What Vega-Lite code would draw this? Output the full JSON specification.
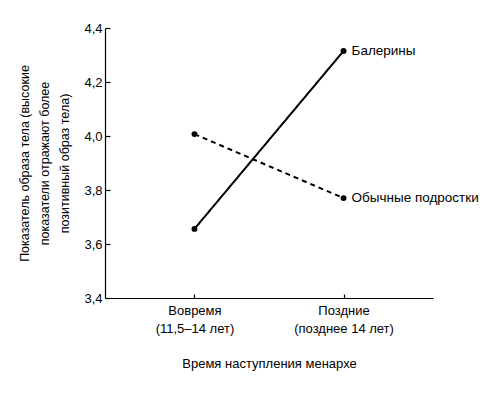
{
  "$schema": "https://vega.github.io/schema/vega-lite/v6.json",
  "width": 328,
  "height": 270,
  "autosize": {"type": "none"},
  "padding": {"left": 105, "top": 28, "right": 67, "bottom": 97},
  "background": "white",
  "config": {
    "font": "Liberation Sans, sans-serif",
    "view": {"stroke": null},
    "axis": {"grid": false, "domainColor": "black", "tickColor": "black", "labelColor": "black", "titleColor": "black", "labelFont": "Liberation Sans", "titleFont": "Liberation Sans", "titleFontWeight": "normal", "domainWidth": 1.2, "tickWidth": 1.2}
  },
  "data": {"values": [
    {"group": "Балерины", "period": "Вовремя", "value": 3.656},
    {"group": "Балерины", "period": "Поздние", "value": 4.315},
    {"group": "Обычные подростки", "period": "Вовремя", "value": 4.007},
    {"group": "Обычные подростки", "period": "Поздние", "value": 3.77}
  ]},
  "encoding": {
    "x": {"field": "period", "type": "ordinal", "sort": ["Вовремя", "Поздние"],
      "scale": {"type": "point", "padding": 0.6},
      "axis": {"title": "Время наступления менархе", "labelAngle": 0, "tickSize": -4, "labelPadding": 10, "labelFontSize": 13, "titleFontSize": 13, "titlePadding": 22, "labelLineHeight": 18,
        "labelExpr": "datum.value == 'Вовремя' ? ['Вовремя', '(11,5–14 лет)'] : ['Поздние', '(позднее 14 лет)']"}},
    "y": {"field": "value", "type": "quantitative", "scale": {"domain": [3.4, 4.4], "zero": false},
      "axis": {"values": [3.4, 3.6, 3.8, 4.0, 4.2, 4.4], "tickSize": -5, "labelPadding": 8, "labelFontSize": 13,
        "labelExpr": "replace(format(datum.value, '.1f'), '.', ',')",
        "title": ["Показатель образа тела (высокие", "показатели отражают более", "позитивный образ тела)"],
        "titleFontSize": 12.5, "titleLineHeight": 20, "titlePadding": 12, "titleAngle": 270, "titleAlign": "center", "titleBaseline": "bottom"}}
  },
  "layer": [
    {"mark": {"type": "line", "color": "black", "strokeWidth": 2},
     "encoding": {"detail": {"field": "group"},
       "strokeDash": {"field": "group", "type": "nominal", "scale": {"domain": ["Балерины", "Обычные подростки"], "range": [[1, 0], [5, 4]]}, "legend": null}}},
    {"mark": {"type": "point", "filled": true, "color": "black", "size": 35, "opacity": 1}},
    {"transform": [{"filter": "datum.period == 'Поздние'"}],
     "mark": {"type": "text", "align": "left", "dx": 8, "fontSize": 13.5, "color": "black", "font": "Liberation Sans"},
     "encoding": {"text": {"field": "group"}}}
  ]
}
